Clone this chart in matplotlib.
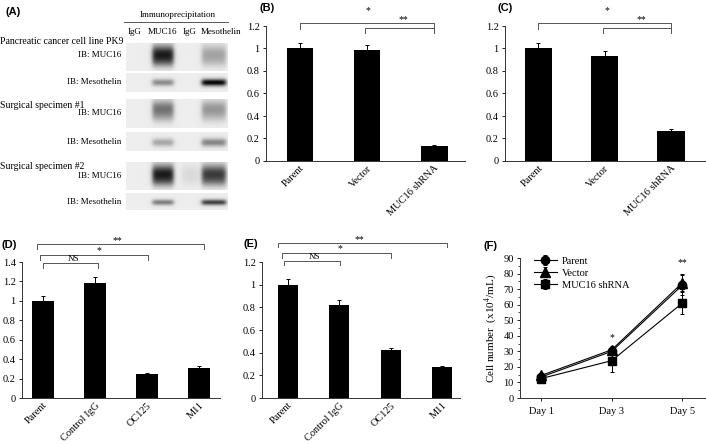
import numpy as np
import matplotlib
matplotlib.use("Agg")
import matplotlib.pyplot as plt
from matplotlib.ticker import MultipleLocator

# ---------------- data ----------------
bc_categories = ["Parent", "Vector", "MUC16 shRNA"]
b_values = [1.0, 0.99, 0.135]
b_errors = [0.05, 0.045, 0.008]
c_values = [1.0, 0.93, 0.265]
c_errors = [0.05, 0.05, 0.015]

de_categories = ["Parent", "Control IgG", "OC125", "M11"]
d_values = [1.0, 1.185, 0.245, 0.31]
d_errors = [0.05, 0.06, 0.015, 0.015]
e_values = [1.0, 0.82, 0.425, 0.27]
e_errors = [0.05, 0.045, 0.02, 0.015]

f_days = ["Day 1", "Day 3", "Day 5"]
f_parent = [13.5, 30.0, 72.5]
f_parent_err = [1.5, 2.5, 6.5]
f_vector = [14.5, 31.0, 74.0]
f_vector_err = [1.5, 2.5, 5.5]
f_shrna = [12.5, 24.0, 61.0]
f_shrna_err = [1.2, 7.5, 7.0]

blot_lanes = ["IgG", "MUC16", "IgG", "Mesothelin"]
blot_row_labels = ["IB: MUC16", "IB: Mesothelin"] * 3
blot_groups = ["Pancreatic cancer cell line PK9", "Surgical specimen #1", "Surgical specimen #2"]
# band intensity per lane (IgG, MUC16, IgG, Mesothelin) for each strip
blot_intensity = [
    [0.0, 0.85, 0.0, 0.30],
    [0.0, 0.42, 0.0, 1.00],
    [0.0, 0.50, 0.0, 0.35],
    [0.0, 0.30, 0.0, 0.45],
    [0.0, 0.85, 0.08, 0.72],
    [0.0, 0.48, 0.0, 0.75],
]

# ---------------- figure ----------------
W, H = 706, 444
fig = plt.figure(figsize=(W / 100, H / 100), dpi=100)
SERIF = ["Liberation Serif", "DejaVu Serif"]
SANS = ["Liberation Sans", "DejaVu Sans"]
plt.rcParams["font.family"] = SERIF
plt.rcParams["mathtext.fontset"] = "stix"


def px_axes(l, t, r, b):
    return fig.add_axes([l / W, 1 - b / H, (r - l) / W, (b - t) / H])


def panel_label(x, y, s):
    fig.text(x / W, 1 - y / H, s, family=SANS, fontweight="bold", fontsize=8,
             ha="left", va="center")


def style_axes(ax):
    for sp in ["top", "right"]:
        ax.spines[sp].set_visible(False)
    for sp in ["left", "bottom"]:
        ax.spines[sp].set_linewidth(0.7)
        ax.spines[sp].set_color("#333333")
    ax.tick_params(axis="y", direction="out", length=2.5, width=0.6, labelsize=7.5, pad=2)
    ax.tick_params(axis="x", direction="out", length=0, labelsize=7.5, pad=2)


def bracket(ax, x0, x1, y, yl, text, tx, ty, fs=7):
    ax.plot([x0, x0, x1, x1], [yl, y, y, yl], color="#555555", lw=0.7, clip_on=False)
    ax.text(tx, ty, text, ha="center", va="bottom", fontsize=fs, clip_on=False)


def bar_panel(ax, cats, vals, errs, ymax, ystep, xlim, width):
    x = np.arange(len(cats))
    ax.bar(x, vals, width=width, color="black", zorder=2)
    ax.errorbar(x, vals, yerr=errs, fmt="none", ecolor="black", elinewidth=0.7,
                capsize=1.5, capthick=0.7, zorder=3)
    ax.set_ylim(0, ymax)
    ax.set_xlim(*xlim)
    ticks = np.round(np.arange(0, ymax + 1e-9, ystep), 2)
    ax.set_yticks(ticks)
    ax.set_yticklabels([("%g" % t) for t in ticks])
    ax.set_xticks(x)
    ax.set_xticklabels(cats, rotation=45, ha="right", rotation_mode="anchor")
    style_axes(ax)


# ---- Panel B ----
axB = px_axes(266, 26, 465, 161)
bar_panel(axB, bc_categories, b_values, b_errors, 1.2, 0.2, (-0.507, 2.46), 0.40)
bracket(axB, 0, 2, 1.224, 1.17, "*", 1.01, 1.30)
bracket(axB, 0.97, 2, 1.185, 1.141, "**", 1.54, 1.22)
panel_label(259, 8, "(B)")

# ---- Panel C ----
axC = px_axes(505, 26, 705, 161)
bar_panel(axC, bc_categories, c_values, c_errors, 1.2, 0.2, (-0.5, 2.51), 0.41)
bracket(axC, 0, 2, 1.23, 1.17, "*", 1.03, 1.30)
bracket(axC, 0.97, 2, 1.185, 1.14, "**", 1.56, 1.22)
panel_label(498, 8, "(C)")

# ---- Panel D ----
axD = px_axes(22, 262, 220, 398)
bar_panel(axD, de_categories, d_values, d_errors, 1.4, 0.2, (-0.4, 3.4), 0.42)
bracket(axD, -0.12, 3.1, 1.586, 1.534, "**", 1.44, 1.57)
bracket(axD, -0.06, 2.02, 1.473, 1.42, "*", 1.08, 1.47)
bracket(axD, 0.0, 1.06, 1.39, 1.34, "NS", 0.58, 1.385, fs=6.5)
panel_label(1, 245, "(D)")

# ---- Panel E ----
axE = px_axes(262, 262, 460, 398)
bar_panel(axE, de_categories, e_values, e_errors, 1.2, 0.2, (-0.5, 3.35), 0.39)
bracket(axE, -0.18, 3.1, 1.368, 1.333, "**", 1.4, 1.355)
bracket(axE, -0.12, 2.0, 1.28, 1.236, "*", 1.01, 1.275)
bracket(axE, -0.08, 1.01, 1.21, 1.174, "NS", 0.53, 1.205, fs=6.5)
panel_label(243, 244, "(E)")

# ---- Panel F ----
axF = px_axes(520, 258, 707, 398)
xf = np.arange(len(f_days))
series = [(f_parent, f_parent_err, "o", "Parent", 6),
          (f_vector, f_vector_err, "^", "Vector", 6.5),
          (f_shrna, f_shrna_err, "s", "MUC16 shRNA", 5.5)]
for vals, errs, mk, lab, ms in series:
    axF.errorbar(xf, vals, yerr=errs, color="black", marker=mk, markersize=ms,
                 lw=0.8, elinewidth=0.7, capsize=1.5, capthick=0.7, label=lab,
                 markeredgecolor="black", markerfacecolor="black")
axF.set_ylim(0, 90)
axF.set_xlim(-0.3, 2.35)
axF.set_xticks(xf)
axF.set_xticklabels(f_days)
axF.yaxis.set_major_locator(MultipleLocator(10))
axF.yaxis.set_minor_locator(MultipleLocator(5))
style_axes(axF)
axF.tick_params(axis="x", length=2.5, width=0.6, pad=4)
axF.tick_params(axis="y", which="minor", length=1.5, width=0.5)
axF.set_ylabel("Cell number  (x10$^4$/mL)", fontsize=8, labelpad=3)
axF.text(1, 36, "*", ha="center", va="bottom", fontsize=7)
axF.text(2, 84, "**", ha="center", va="bottom", fontsize=7)
leg = axF.legend(loc="upper left", bbox_to_anchor=(0.05, 1.04), frameon=False,
                 fontsize=7.5, handlelength=2.3, handletextpad=0.4, labelspacing=0.25,
                 borderaxespad=0)
panel_label(483, 246, "(F)")

# ---- Panel A (blots) ----
axA = fig.add_axes([0, 1 - 230 / H, 240 / W, 230 / H])
axA.set_xlim(0, 240)
axA.set_ylim(230, 0)
axA.axis("off")
axA.text(5, 12, "(A)", family=SANS, fontweight="bold", fontsize=8, ha="left", va="center")
axA.text(178, 15, "Immunoprecipitation", fontsize=6.5, ha="center", va="center")
axA.plot([124, 228], [22, 22], color="#555555", lw=0.7)
lane_x = [135, 163, 190, 214]
lane_label_x = [135, 163, 190, 221]
for lx, lab in zip(lane_label_x, blot_lanes):
    axA.text(lx, 32, lab, fontsize=6.5, ha="center", va="center")

strip_tb = [(43, 71), (73, 92), (99, 128), (132, 151), (162, 190), (193, 210)]
band_yc = [0.38, 0.5, 0.32, 0.55, 0.4, 0.55]
band_ys = [0.22, 0.13, 0.2, 0.15, 0.22, 0.12]
lane_hw = [10, 10.5, 8, 12]
x0s, x1s = 126, 228
for k, ((t, b), inten) in enumerate(zip(strip_tb, blot_intensity)):
    nx, ny = 300, 80
    xs = np.linspace(x0s, x1s, nx)
    ys = np.linspace(0, 1, ny)
    X, Y = np.meshgrid(xs, ys)
    img = np.full_like(X, 0.93)
    for c, hw, I in zip(lane_x, lane_hw, inten):
        if I <= 0:
            continue
        fx = 1 / (1 + np.exp((np.abs(X - c) - hw) / 1.2))
        fy = np.exp(-0.5 * ((Y - band_yc[k]) / band_ys[k]) ** 2)
        # smear tail for MUC16 rows
        if k % 2 == 0:
            fy = fy + 0.35 * np.exp(-0.5 * ((Y - band_yc[k] - 0.3) / 0.15) ** 2)
        img -= 0.92 * I * fx * fy
    img = np.clip(img, 0, 1)
    axA.imshow(img, cmap="gray", vmin=0, vmax=1, extent=(x0s, x1s, b, t),
               aspect="auto", interpolation="bilinear")

group_y = [42, 105, 166]
row_y = [55, 82, 113, 142, 176, 202]
for gy, g in zip(group_y, blot_groups):
    axA.text(0, gy, g, fontsize=7, ha="left", va="center")
for ry, r in zip(row_y, blot_row_labels):
    axA.text(121, ry, r, fontsize=6.5, ha="right", va="center")
axA.set_xlim(0, 240)
axA.set_ylim(230, 0)

fig.savefig("out.png", dpi=100)
